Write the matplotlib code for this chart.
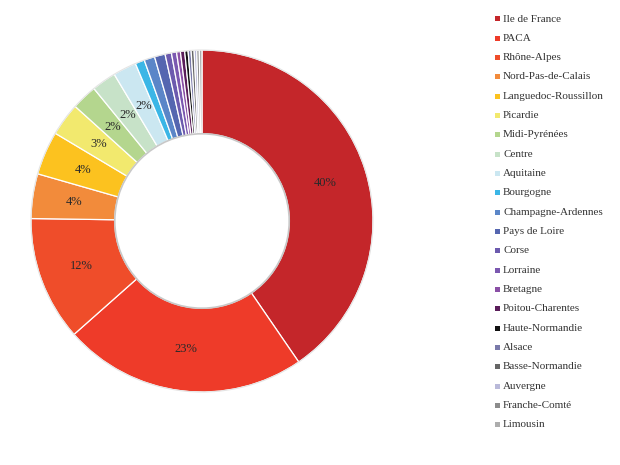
import matplotlib
matplotlib.use("Agg")
import matplotlib.pyplot as plt
from matplotlib.patches import Rectangle, Circle

regions = ["Ile de France", "PACA", "Rhône-Alpes", "Nord-Pas-de-Calais",
           "Languedoc-Roussillon", "Picardie", "Midi-Pyrénées", "Centre",
           "Aquitaine", "Bourgogne", "Champagne-Ardennes", "Pays de Loire",
           "Corse", "Lorraine", "Bretagne", "Poitou-Charentes",
           "Haute-Normandie", "Alsace", "Basse-Normandie", "Auvergne",
           "Franche-Comté", "Limousin"]
values = [40.2, 22.9, 11.7, 4.2, 4.1, 3.1, 2.4, 2.3, 2.2,
          0.88, 1.0, 1.0, 0.6, 0.48, 0.36, 0.4, 0.32, 0.28, 0.28, 0.24, 0.24, 0.25]
pct_labels = ["40%", "23%", "12%", "4%", "4%", "3%", "2%", "2%", "2%",
              "", "", "", "", "", "", "", "", "", "", "", "", ""]
colors = ["#C4262A", "#EE3B29", "#EF4D2A", "#F28B3B", "#FCC21F", "#F2E96E",
          "#B4D68E", "#C7E2C8", "#CBE7F1", "#3BB6E6", "#5B86C8", "#5566B0",
          "#6C5AAE", "#7B58B0", "#8A4FA6", "#5A1D5A", "#111111", "#7A7AAA",
          "#666666", "#B9B9D9", "#8C8C8C", "#ADADAD"]

W, H = 620, 465
fig = plt.figure(figsize=(W / 100, H / 100), dpi=100)
fig.patch.set_facecolor("white")

cx, cy, R = 202, 221, 171
ax = fig.add_axes([(cx - R * 1.02) / W, 1 - (cy + R * 1.02) / H,
                   2 * R * 1.02 / W, 2 * R * 1.02 / H])
wedges, texts = ax.pie(values, labels=pct_labels, colors=colors, startangle=90,
                       counterclock=False, labeldistance=0.755,
                       wedgeprops=dict(width=0.49, edgecolor="white", linewidth=0.9),
                       textprops=dict(fontsize=9, color="#2a2a2a",
                                      family="Liberation Serif"))
for t in texts:
    t.set_ha("center")
    t.set_va("center")
ax.add_patch(Circle((0, 0), 0.51, fill=False, edgecolor="#C8C8C8", lw=1.2))
ax.add_patch(Circle((0, 0), 1.0, fill=False, edgecolor="#E4E4E4", lw=0.8))
ax.set_xlim(-1.02, 1.02)
ax.set_ylim(-1.02, 1.02)
ax.set_aspect("equal")
ax.axis("off")

# legend
y0, dy = 19, 19.33
for i, (name, col) in enumerate(zip(regions, colors)):
    y = y0 + i * dy
    fig.patches.append(Rectangle((495 / W, 1 - (y + 2.5) / H), 5 / W, 5 / H,
                                 transform=fig.transFigure, facecolor=col,
                                 edgecolor="none"))
    fig.text(503 / W, 1 - y / H, name, fontsize=8, color="#333333",
             family="Liberation Serif", ha="left", va="center")

fig.savefig("out.png", dpi=100, facecolor="white")
